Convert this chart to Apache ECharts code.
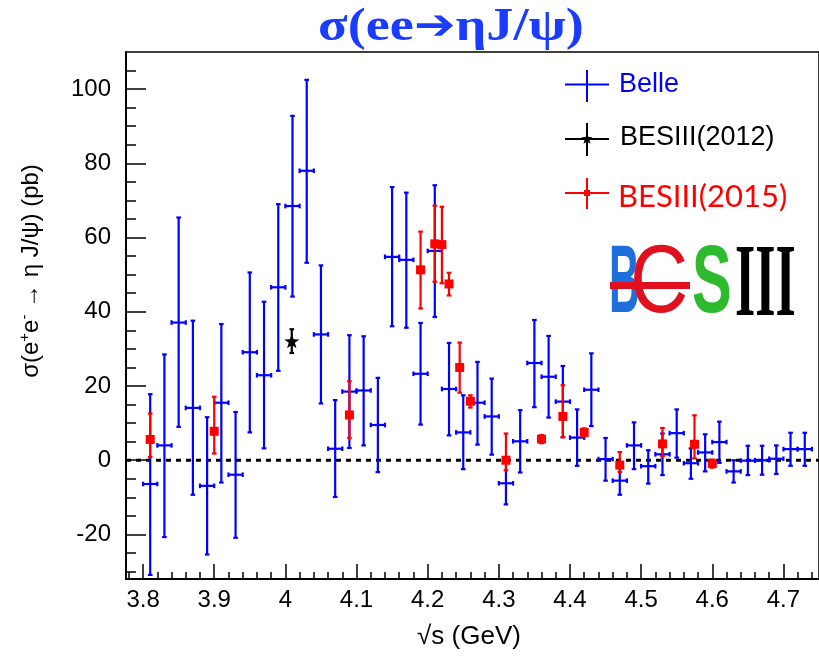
<!DOCTYPE html>
<html><head><meta charset="utf-8">
<script src="https://cdn.jsdelivr.net/npm/echarts@6/dist/echarts.min.js"></script>
<style>html,body{margin:0;padding:0;background:#fff}#c{width:819px;height:657px}</style>
</head><body><div id="c"></div>
<script>
// ---- Belle (blue) ----
const belleX  = [3.81,3.83,3.85,3.87,3.89,3.91,3.93,3.95,3.97,3.99,4.01,4.03,4.05,4.07,4.09,4.11,4.13,4.15,4.17,4.19,4.21,4.23,4.25,4.27,4.29,4.31,4.33,4.35,4.37,4.39,4.41,4.43,4.45,4.47,4.49,4.51,4.53,4.55,4.57,4.59,4.61,4.63,4.65,4.67,4.69,4.71,4.73];
const belleY  = [-6.4,4.0,37.1,14.1,-6.9,15.5,-3.9,29.1,22.9,46.6,68.5,78.0,33.9,3.1,18.5,18.8,9.5,54.8,54.0,23.3,56.4,19.2,7.5,15.5,11.8,-6.2,5.1,26.2,22.5,15.8,6.1,19.0,0.3,-5.5,4.0,-1.6,1.6,7.3,-0.8,2.1,4.9,-3.0,-0.1,0.0,0.4,3.0,3.0];
const belleHi = [17.8,28.5,65.4,37.6,11.6,36.7,13.0,50.6,42.7,69.0,92.8,102.5,52.5,16.2,33.7,33.4,22.2,73.6,72.1,37.0,74.1,31.6,17.5,26.5,22.0,-0.5,13.5,37.8,33.5,25.4,13.7,28.8,6.0,-1.7,10.2,2.7,7.2,13.7,3.2,7.0,10.4,0.0,3.9,3.9,4.0,7.4,7.4];
const belleLo = [-30.9,-20.7,9.0,-9.3,-25.4,-6.0,-20.9,7.5,3.2,24.1,44.1,53.2,15.3,-9.9,3.3,4.0,-3.2,36.1,35.7,9.6,38.6,6.7,-2.4,4.2,1.5,-11.9,-3.3,14.3,11.5,6.2,-1.5,9.2,-5.5,-9.3,-2.4,-6.3,-4.0,0.7,-5.0,-3.0,-0.7,-6.0,-4.0,-3.9,-3.7,-1.5,-1.5];
const belleXErr = 0.01;
// ---- BESIII 2015 (red) ----
const bes15X  = [3.81,3.90,4.09,4.19,4.21,4.22,4.23,4.245,4.26,4.31,4.36,4.39,4.42,4.47,4.53,4.575,4.60];
const bes15Y  = [5.6,7.8,12.2,51.3,58.3,58.1,47.5,25.0,15.9,0.0,5.7,11.8,7.5,-1.3,4.4,4.3,-0.9];
const bes15Hi = [12.6,17.1,21.3,61.6,68.6,68.3,50.5,31.7,17.5,7.2,6.8,20.2,8.6,2.2,8.7,12.1,0.2];
const bes15Lo = [0.9,1.8,6.0,40.9,48.1,47.7,44.4,18.2,14.2,-2.7,4.6,6.2,6.4,-3.2,1.1,0.5,-2.0];
// ---- BESIII 2012 (black) ----
const bes12X  = [4.009];
const bes12Y  = [31.9];
const bes12Hi = [35.3];
const bes12Lo = [28.9];
// ---- axes ----
const xMin = 3.776, xMax = 4.75, yMin = -32, yMax = 110;
const xTickVals = [3.8,3.9,4.0,4.1,4.2,4.3,4.4,4.5,4.6,4.7];
const xTickLabels = ['3.8','3.9','4','4.1','4.2','4.3','4.4','4.5','4.6','4.7'];
const yTickVals = [-20,0,20,40,60,80,100];
const yTickLabels = ['-20','0','20','40','60','80','100'];

const xMinor = []; for (let k = 189; k <= 237; k++) xMinor.push(+(k*0.02).toFixed(2));
const yMinor = []; for (let k = -6; k <= 21; k++) yMinor.push(k*5);

function star(cx, cy, R, r) {
  const pts = [];
  for (let i = 0; i < 10; i++) {
    const a = -Math.PI/2 + i*Math.PI/5, rr = i%2 ? r : R;
    pts.push([cx + rr*Math.cos(a), cy + rr*Math.sin(a)]);
  }
  return pts;
}

function makeRender(color, marker) {
  return function(params, api) {
    const x = api.value(0), y = api.value(1), hi = api.value(2), lo = api.value(3), xe = api.value(4);
    const c = api.coord([x, y]), t = api.coord([x, hi]), b = api.coord([x, lo]);
    const st = {stroke: color, lineWidth: 2.2};
    const cap = 2.3;
    const ch = [
      {type:'line', shape:{x1:c[0], y1:t[1], x2:c[0], y2:b[1]}, style:st},
      {type:'line', shape:{x1:c[0]-cap, y1:t[1], x2:c[0]+cap, y2:t[1]}, style:st},
      {type:'line', shape:{x1:c[0]-cap, y1:b[1], x2:c[0]+cap, y2:b[1]}, style:st}
    ];
    if (xe > 0) {
      const l = api.coord([x-xe, y]), r = api.coord([x+xe, y]);
      ch.push({type:'line', shape:{x1:l[0], y1:c[1], x2:r[0], y2:c[1]}, style:st});
      ch.push({type:'line', shape:{x1:l[0], y1:c[1]-cap, x2:l[0], y2:c[1]+cap}, style:st});
      ch.push({type:'line', shape:{x1:r[0], y1:c[1]-cap, x2:r[0], y2:c[1]+cap}, style:st});
    }
    if (marker === 'square') {
      ch.push({type:'rect', shape:{x:c[0]-4.5, y:c[1]-4.5, width:9, height:9}, style:{fill:color}});
    } else if (marker === 'star') {
      ch.push({type:'polygon', shape:{points: star(c[0], c[1], 8, 3.2)}, style:{fill:color}});
    }
    return {type:'group', children: ch};
  };
}

const belleData = belleX.map((x,i)=>[x, belleY[i], belleHi[i], belleLo[i], belleXErr]);
const bes15Data = bes15X.map((x,i)=>[x, bes15Y[i], bes15Hi[i], bes15Lo[i], 0]);
const bes12Data = bes12X.map((x,i)=>[x, bes12Y[i], bes12Hi[i], bes12Lo[i], 0]);

const font = 'Liberation Sans';
const chart = echarts.init(document.getElementById('c'), null, {renderer:'canvas'});
chart.setOption({
  animation: false,
  backgroundColor: '#fff',
  grid: {left:126, right:-5, top:52, bottom:78, show:true, borderColor:'#000', borderWidth:1.5, backgroundColor:'transparent'},
  xAxis: [
    {type:'value', min:xMin, max:xMax, position:'bottom',
     axisLine:{show:true, onZero:false, lineStyle:{color:'#000', width:2}},
     axisTick:{show:true, inside:true, length:15, customValues:xTickVals, lineStyle:{color:'#000', width:1.5}},
     axisLabel:{show:true, customValues:xTickVals, margin:9, color:'#000', fontSize:24, fontFamily:font,
       formatter:(v)=>{const i = xTickVals.findIndex(t=>Math.abs(t-v)<1e-6); return i>=0 ? xTickLabels[i] : '';}},
     splitLine:{show:false}},
    {type:'value', min:xMin, max:xMax, position:'bottom',
     axisLine:{show:false, onZero:false}, axisLabel:{show:false}, splitLine:{show:false},
     axisTick:{show:true, inside:true, length:7, customValues:xMinor, lineStyle:{color:'#000', width:1.5}}}
  ],
  yAxis: [
    {type:'value', min:yMin, max:yMax, position:'left',
     axisLine:{show:true, onZero:false, lineStyle:{color:'#000', width:2}},
     axisTick:{show:true, inside:true, length:20, customValues:yTickVals, lineStyle:{color:'#000', width:1.5}},
     axisLabel:{show:true, customValues:yTickVals, margin:15, color:'#000', fontSize:24, fontFamily:font,
       formatter:(v)=>{const i = yTickVals.findIndex(t=>Math.abs(t-v)<1e-6); return i>=0 ? yTickLabels[i] : '';}},
     splitLine:{show:false}},
    {type:'value', min:yMin, max:yMax, position:'left',
     axisLine:{show:false, onZero:false}, axisLabel:{show:false}, splitLine:{show:false},
     axisTick:{show:true, inside:true, length:10, customValues:yMinor, lineStyle:{color:'#000', width:1.5}}}
  ],
  series: [
    {type:'line', name:'zero', xAxisIndex:0, yAxisIndex:0, data:[[xMin,0],[xMax,0]], symbol:'none',
     lineStyle:{color:'#000', width:3, type:[5,5]}, silent:true, z:1},
    {type:'custom', name:'Belle', xAxisIndex:0, yAxisIndex:0, data:belleData, renderItem:makeRender('#0000ff', 'none'),
     encode:{x:0, y:[1,2,3]}, z:2},
    {type:'custom', name:'BESIII(2015)', xAxisIndex:0, yAxisIndex:0, data:bes15Data, renderItem:makeRender('#ff0000', 'square'),
     encode:{x:0, y:[1,2,3]}, z:3},
    {type:'custom', name:'BESIII(2012)', xAxisIndex:0, yAxisIndex:0, data:bes12Data, renderItem:makeRender('#000000', 'star'),
     encode:{x:0, y:[1,2,3]}, z:4}
  ],
  graphic: [
    // title
    {type:'text', x:451, y:28, scaleX:1.18, style:{
      text:'{a|σ(ee}{b|➔}{a|ηJ/ψ)}', align:'center', verticalAlign:'middle',
      rich:{
        a:{fontFamily:'Liberation Serif', fontWeight:'bold', fontSize:46, fill:'#1a3cff'},
        b:{fontFamily:'DejaVu Sans', fontWeight:'bold', fontSize:42, fill:'#1a3cff'}
      }}},
    // y axis title
    {type:'text', x:31, y:271, rotation:Math.PI/2, style:{
      text:'{n|σ(e}{s|+}{n|e}{s|-}{n| → η J/ψ) (pb)}', align:'center', verticalAlign:'middle',
      rich:{
        n:{fontFamily:font, fontSize:24, fill:'#000', lineHeight:28},
        s:{fontFamily:font, fontSize:15, fill:'#000', verticalAlign:'top', lineHeight:28}
      }}},
    // x axis title
    {type:'text', x:469, y:637, style:{text:'√s (GeV)', align:'center', verticalAlign:'middle',
      fontFamily:font, fontSize:26, fill:'#000'}},
    // legend: Belle
    {type:'line', shape:{x1:565, y1:84.5, x2:609, y2:84.5}, style:{stroke:'#0000ff', lineWidth:2}},
    {type:'line', shape:{x1:587, y1:70, x2:587, y2:102}, style:{stroke:'#0000ff', lineWidth:2}},
    {type:'text', x:619, y:85, style:{text:'Belle', align:'left', verticalAlign:'middle', fontFamily:font, fontSize:27, fill:'#0000ff'}},
    // legend: BESIII(2012)
    {type:'line', shape:{x1:565, y1:139, x2:609, y2:139}, style:{stroke:'#000', lineWidth:2}},
    {type:'line', shape:{x1:587, y1:123, x2:587, y2:156}, style:{stroke:'#000', lineWidth:2}},
    {type:'polygon', shape:{points: star(587, 139, 6, 2.5)}, style:{fill:'#000'}},
    {type:'text', x:620, y:138, style:{text:'BESIII(2012)', align:'left', verticalAlign:'middle', fontFamily:font, fontSize:27, fill:'#000'}},
    // legend: BESIII(2015)
    {type:'line', shape:{x1:565, y1:193, x2:609, y2:193}, style:{stroke:'#ff0000', lineWidth:2}},
    {type:'line', shape:{x1:587, y1:178, x2:587, y2:209}, style:{stroke:'#ff0000', lineWidth:2}},
    {type:'rect', shape:{x:584, y:190, width:6, height:6}, style:{fill:'#ff0000'}},
    {type:'text', x:618, y:197, style:{text:'BESIII(2015)', align:'left', verticalAlign:'middle', fontFamily:'Lato', fontSize:31, fill:'#ff0000'}},
    // BESIII logo
    {type:'text', x:609, y:286, scaleX:0.44, style:{text:'B', align:'left', verticalAlign:'middle', fontFamily:font, fontWeight:'bold', fontSize:96, fill:'#1e6fdc'}},
    {type:'text', x:630, y:286, scaleX:0.84, style:{text:'C', align:'left', verticalAlign:'middle', fontFamily:font, fontSize:96, fill:'#e0101f'}},
    {type:'rect', shape:{x:610, y:282, width:80, height:7}, style:{fill:'#e0101f'}},
    {type:'text', x:692, y:286, scaleX:0.62, style:{text:'S', align:'left', verticalAlign:'middle', fontFamily:font, fontWeight:'bold', fontSize:96, fill:'#2dbb2d'}},
    {type:'text', x:735, y:288, scaleX:0.5, style:{text:'III', align:'left', verticalAlign:'middle', fontFamily:'Liberation Serif', fontWeight:'bold', fontSize:104, fill:'#000'}}
  ]
});
</script>
</body></html>
